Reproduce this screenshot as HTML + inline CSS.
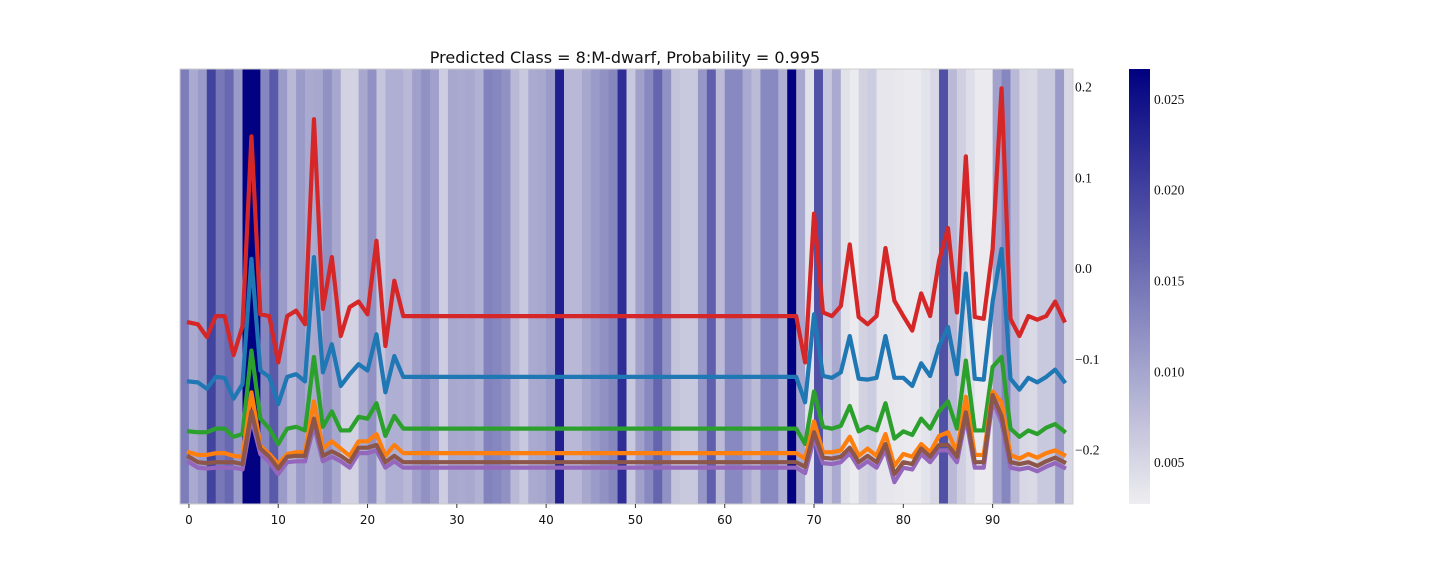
<!DOCTYPE html>
<html><head><meta charset="utf-8"><style>
html,body{margin:0;padding:0;background:#fff;}
svg{display:block;}
</style></head><body>
<svg id="chart" width="1440" height="576" xmlns="http://www.w3.org/2000/svg">
<rect width="1440" height="576" fill="#fff"/>
<text x="625" y="63" text-anchor="middle" font-family="DejaVu Sans, sans-serif" font-size="16" fill="#111">Predicted Class = 8:M-dwarf, Probability = 0.995</text>
<g id="heat"></g>
<g id="lines"></g>
<rect x="180" y="69" width="893" height="435" fill="none" stroke="#cccccc" stroke-width="1"/>
<g id="xaxis"></g>
<g id="yaxis"></g>
<defs><linearGradient id="cbg" x1="0" y1="1" x2="0" y2="0">
<stop offset="0" stop-color="#eeeef0"/><stop offset="0.5" stop-color="#7676b8"/><stop offset="1" stop-color="#000080"/>
</linearGradient></defs>
<rect x="1129" y="69" width="21" height="435" fill="url(#cbg)"/>
<g id="cbaxis"></g>
</svg>
<script>
const heatValues=[0.014,0.0095,0.011,0.020,0.0145,0.016,0.011,0.0265,0.0265,0.013,
0.0175,0.011,0.008,0.011,0.0095,0.0097,0.012,0.0097,0.0055,0.0055,
0.0097,0.012,0.0068,0.009,0.009,0.008,0.0105,0.012,0.0105,0.006,
0.0097,0.0095,0.0097,0.0088,0.0135,0.013,0.012,0.008,0.0065,0.0095,
0.0097,0.011,0.0235,0.008,0.008,0.0097,0.011,0.012,0.013,0.022,
0.0066,0.0105,0.0128,0.0165,0.012,0.007,0.0065,0.0065,0.0115,0.017,
0.0078,0.0128,0.0128,0.0095,0.0078,0.0128,0.0128,0.009,0.0265,0.0097,
0.004,0.0185,0.0066,0.0095,0.004,0.003,0.0055,0.006,0.0035,0.0035,
0.0033,0.003,0.003,0.0038,0.005,0.0185,0.008,0.0058,0.0043,0.003,
0.003,0.0103,0.013,0.008,0.005,0.0047,0.0065,0.0065,0.011,0.005];
const redSeries=[-0.060,-0.062,-0.076,-0.053,-0.053,-0.096,-0.064,0.145,-0.051,-0.053,-0.104,-0.053,-0.047,-0.062,0.164,-0.045,0.012,-0.075,-0.043,-0.037,-0.051,0.030,-0.086,-0.014,-0.053,
-0.053,-0.053,-0.053,-0.053,-0.053,-0.053,-0.053,-0.053,-0.053,-0.053,-0.053,
-0.053,-0.053,-0.053,-0.053,-0.053,-0.053,-0.053,-0.053,-0.053,-0.053,-0.053,
-0.053,-0.053,-0.053,-0.053,-0.053,-0.053,-0.053,-0.053,-0.053,-0.053,-0.053,
-0.053,-0.053,-0.053,-0.053,-0.053,-0.053,-0.053,-0.053,-0.053,-0.053,-0.053,
-0.104,0.060,-0.049,-0.053,-0.042,0.026,-0.054,-0.062,-0.053,0.022,-0.036,-0.053,-0.069,-0.028,-0.053,0.008,0.044,-0.049,0.123,-0.054,-0.056,0.021,0.198,-0.056,-0.075,-0.053,-0.057,-0.053,-0.037,-0.058];
const blueSeries=[-0.125,-0.126,-0.133,-0.120,-0.121,-0.144,-0.128,0.010,-0.113,-0.120,-0.150,-0.120,-0.117,-0.125,0.012,-0.115,-0.084,-0.130,-0.117,-0.106,-0.113,-0.073,-0.137,-0.097,-0.120,
-0.120,-0.120,-0.120,-0.120,-0.120,-0.120,-0.120,-0.120,-0.120,-0.120,-0.120,
-0.120,-0.120,-0.120,-0.120,-0.120,-0.120,-0.120,-0.120,-0.120,-0.120,-0.120,
-0.120,-0.120,-0.120,-0.120,-0.120,-0.120,-0.120,-0.120,-0.120,-0.120,-0.120,
-0.120,-0.120,-0.120,-0.120,-0.120,-0.120,-0.120,-0.120,-0.120,-0.120,-0.120,
-0.148,-0.051,-0.119,-0.121,-0.115,-0.075,-0.122,-0.123,-0.121,-0.075,-0.121,-0.121,-0.130,-0.105,-0.119,-0.086,-0.065,-0.117,-0.006,-0.122,-0.123,-0.037,0.021,-0.122,-0.134,-0.121,-0.126,-0.120,-0.112,-0.125];
const greenSeries=[-0.180,-0.181,-0.181,-0.177,-0.177,-0.186,-0.183,-0.091,-0.166,-0.177,-0.194,-0.177,-0.175,-0.179,-0.098,-0.175,-0.158,-0.179,-0.179,-0.164,-0.166,-0.149,-0.185,-0.163,-0.177,
-0.177,-0.177,-0.177,-0.177,-0.177,-0.177,-0.177,-0.177,-0.177,-0.177,-0.177,
-0.177,-0.177,-0.177,-0.177,-0.177,-0.177,-0.177,-0.177,-0.177,-0.177,-0.177,
-0.177,-0.177,-0.177,-0.177,-0.177,-0.177,-0.177,-0.177,-0.177,-0.177,-0.177,
-0.177,-0.177,-0.177,-0.177,-0.177,-0.177,-0.177,-0.177,-0.177,-0.177,-0.177,
-0.194,-0.136,-0.175,-0.177,-0.174,-0.152,-0.180,-0.175,-0.179,-0.149,-0.188,-0.180,-0.184,-0.166,-0.177,-0.158,-0.147,-0.177,-0.102,-0.179,-0.179,-0.109,-0.098,-0.177,-0.186,-0.179,-0.183,-0.176,-0.172,-0.180];
const orangeSeries=[-0.203,-0.206,-0.206,-0.204,-0.204,-0.207,-0.208,-0.137,-0.196,-0.205,-0.216,-0.205,-0.203,-0.203,-0.147,-0.199,-0.191,-0.199,-0.207,-0.191,-0.191,-0.183,-0.207,-0.195,-0.204,
-0.204,-0.204,-0.204,-0.204,-0.204,-0.204,-0.204,-0.204,-0.204,-0.204,-0.204,
-0.204,-0.204,-0.204,-0.204,-0.204,-0.204,-0.204,-0.204,-0.204,-0.204,-0.204,
-0.204,-0.204,-0.204,-0.204,-0.204,-0.204,-0.204,-0.204,-0.204,-0.204,-0.204,
-0.204,-0.204,-0.204,-0.204,-0.204,-0.204,-0.204,-0.204,-0.204,-0.204,-0.204,
-0.210,-0.169,-0.203,-0.203,-0.201,-0.186,-0.207,-0.199,-0.207,-0.183,-0.218,-0.205,-0.208,-0.194,-0.203,-0.185,-0.181,-0.203,-0.142,-0.206,-0.206,-0.136,-0.148,-0.206,-0.210,-0.205,-0.209,-0.204,-0.201,-0.206];
const brownSeries=[-0.208,-0.214,-0.215,-0.214,-0.214,-0.214,-0.216,-0.158,-0.199,-0.208,-0.221,-0.208,-0.207,-0.207,-0.166,-0.207,-0.202,-0.207,-0.214,-0.198,-0.198,-0.195,-0.214,-0.207,-0.214,
-0.214,-0.214,-0.214,-0.214,-0.214,-0.214,-0.214,-0.214,-0.214,-0.214,-0.214,
-0.214,-0.214,-0.214,-0.214,-0.214,-0.214,-0.214,-0.214,-0.214,-0.214,-0.214,
-0.214,-0.214,-0.214,-0.214,-0.214,-0.214,-0.214,-0.214,-0.214,-0.214,-0.214,
-0.214,-0.214,-0.214,-0.214,-0.214,-0.214,-0.214,-0.214,-0.214,-0.214,-0.214,
-0.219,-0.181,-0.209,-0.210,-0.208,-0.198,-0.214,-0.207,-0.214,-0.194,-0.227,-0.214,-0.216,-0.199,-0.208,-0.195,-0.195,-0.208,-0.159,-0.214,-0.214,-0.140,-0.163,-0.214,-0.216,-0.214,-0.218,-0.213,-0.209,-0.214];
const purpleSeries=[-0.214,-0.220,-0.221,-0.220,-0.220,-0.220,-0.222,-0.166,-0.205,-0.214,-0.227,-0.214,-0.213,-0.213,-0.174,-0.213,-0.208,-0.213,-0.220,-0.204,-0.204,-0.201,-0.220,-0.213,-0.220,
-0.220,-0.220,-0.220,-0.220,-0.220,-0.220,-0.220,-0.220,-0.220,-0.220,-0.220,
-0.220,-0.220,-0.220,-0.220,-0.220,-0.220,-0.220,-0.220,-0.220,-0.220,-0.220,
-0.220,-0.220,-0.220,-0.220,-0.220,-0.220,-0.220,-0.220,-0.220,-0.220,-0.220,
-0.220,-0.220,-0.220,-0.220,-0.220,-0.220,-0.220,-0.220,-0.220,-0.220,-0.220,
-0.226,-0.188,-0.215,-0.216,-0.214,-0.204,-0.220,-0.213,-0.220,-0.200,-0.236,-0.220,-0.222,-0.205,-0.214,-0.201,-0.201,-0.214,-0.165,-0.220,-0.220,-0.146,-0.170,-0.220,-0.222,-0.220,-0.224,-0.219,-0.215,-0.220];
const xTicks=[0,10,20,30,40,50,60,70,80,90];
const yTicks=[0.2,0.1,0.0,-0.1,-0.2];
const yTickLabels=["0.2","0.1","0.0","\u22120.1","\u22120.2"];
const cbTicks=[0.005,0.010,0.015,0.020,0.025];
const cbTickLabels=["0.005","0.010","0.015","0.020","0.025"];

const NS="http://www.w3.org/2000/svg";
const X0=180,X1=1073,XMIN=-1,XMAX=99;
const xScale=v=>X0+(v-XMIN)/(XMAX-XMIN)*(X1-X0);
const yScale=v=>268-v*907.5;
const CMIN=0.00269,CMAX=0.02665;
const cScale=v=>504-(v-CMIN)/(CMAX-CMIN)*435;
function cmap(v){
  let t=Math.max(0,Math.min(1,(v-CMIN)/(CMAX-CMIN)));
  let a,b,f;
  if(t<0.5){a=[238,238,240];b=[118,118,184];f=t/0.5;}else{a=[118,118,184];b=[0,0,128];f=(t-0.5)/0.5;}
  const c=a.map((x,i)=>Math.round(x+(b[i]-x)*f));
  return `rgb(${c[0]},${c[1]},${c[2]})`;
}
function mk(tag,attrs,parent){const e=document.createElementNS(NS,tag);for(const k in attrs)e.setAttribute(k,attrs[k]);parent.appendChild(e);return e;}

const heat=document.getElementById('heat');
const cw=(X1-X0)/heatValues.length;
heatValues.forEach((v,k)=>{
  const r=mk('rect',{x:X0+k*cw,y:69,width:cw+0.4,height:435,fill:cmap(v)},heat);
  
  
});

const lines=document.getElementById('lines');
const series=[[redSeries,'#d62728','red-series-line'],[blueSeries,'#1f77b4','blue-series-line'],[greenSeries,'#2ca02c','green-series-line'],[orangeSeries,'#ff7f0e','orange-series-line'],[purpleSeries,'#9467bd','purple-series-line'],[brownSeries,'#8c564b','brown-series-line']];
series.forEach(([arr,col,name])=>{
  const d=arr.map((v,i)=>(i?'L':'M')+xScale(i).toFixed(2)+' '+yScale(v).toFixed(2)).join(' ');
  const p=mk('path',{d:d,fill:'none',stroke:col,'stroke-width':4.2,'stroke-linejoin':'round','stroke-linecap':'square'},lines);
  
  
});

const xa=document.getElementById('xaxis');
xTicks.forEach(t=>{
  const x=xScale(t);
  const l=mk('line',{x1:x,y1:504,x2:x,y2:508,stroke:'#333','stroke-width':1},xa);
  
  
  const tx=mk('text',{x:x,y:524,'text-anchor':'middle','font-family':'DejaVu Sans, sans-serif','font-size':12,fill:'#111'},xa);
  tx.textContent=String(t);
  
  
});
const ya=document.getElementById('yaxis');
yTicks.forEach((t,i)=>{
  const tx=mk('text',{x:1075,y:yScale(t)+5,'font-family':'Liberation Serif, serif','font-size':13.5,fill:'#111'},ya);
  tx.textContent=yTickLabels[i];
  
  
});
const cb=document.getElementById('cbaxis');
cbTicks.forEach((t,i)=>{
  const tx=mk('text',{x:1154,y:cScale(t)+5,'font-family':'Liberation Serif, serif','font-size':13.5,fill:'#111'},cb);
  tx.textContent=cbTickLabels[i];
  
  
});
</script>
</body></html>
